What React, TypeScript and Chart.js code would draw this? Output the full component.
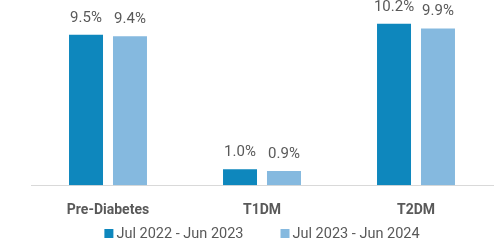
import React, { useEffect, useRef } from "react";
import { Chart, registerables } from "chart.js";

Chart.register(...registerables);

const categories = ["Pre-Diabetes", "T1DM", "T2DM"];
const seriesNames = ["Jul 2022 - Jun 2023", "Jul 2023 - Jun 2024"];
const series2023 = [9.5, 1.0, 10.2];
const series2024 = [9.4, 0.9, 9.9];
const colors = ["#0E87BD", "#85B9DF"];

const FONT = "Roboto, 'Open Sans', sans-serif";
const TEXT = "#595959";

const valueLabels = {
  id: "valueLabels",
  afterDatasetsDraw(chart: any) {
    const ctx = chart.ctx;
    ctx.save();
    ctx.font = `15px ${FONT}`;
    ctx.fillStyle = TEXT;
    ctx.textAlign = "center";
    ctx.textBaseline = "alphabetic";
    chart.data.datasets.forEach((ds: any, i: number) => {
      const meta = chart.getDatasetMeta(i);
      meta.data.forEach((bar: any, j: number) => {
        ctx.fillText(ds.data[j].toFixed(1) + "%", bar.x, bar.y - 13);
      });
    });
    ctx.restore();
  },
};

// Bottom legend drawn from the datasets' labels and colours
const bottomLegend = {
  id: "bottomLegend",
  afterDraw(chart: any) {
    const ctx = chart.ctx;
    const box = 9;
    const gap = 3;
    const spacing = 37;
    ctx.save();
    ctx.font = `14.5px ${FONT}`;
    const items = chart.data.datasets.map((ds: any) => ({
      label: ds.label,
      color: ds.backgroundColor,
      w: box + gap + ctx.measureText(ds.label).width,
    }));
    const total = items.reduce((s: number, it: any) => s + it.w, 0) + spacing * (items.length - 1);
    const cx = (chart.chartArea.left + chart.chartArea.right) / 2;
    let x = cx - total / 2;
    const baseY = chart.height - 6;
    items.forEach((it: any) => {
      ctx.fillStyle = it.color;
      ctx.fillRect(x, baseY - box, box, box);
      ctx.fillStyle = TEXT;
      ctx.textAlign = "left";
      ctx.textBaseline = "alphabetic";
      ctx.fillText(it.label, x + box + gap, baseY);
      x += it.w + spacing;
    });
    ctx.restore();
  },
};

export default function App() {
  const ref = useRef<HTMLCanvasElement>(null);
  useEffect(() => {
    document.body.style.margin = "0";
    const chart = new Chart(ref.current!, {
      type: "bar",
      data: {
        labels: categories,
        datasets: [
          { label: seriesNames[0], data: series2023, backgroundColor: colors[0] },
          { label: seriesNames[1], data: series2024, backgroundColor: colors[1] },
        ],
      },
      options: {
        animation: false,
        responsive: false,
        devicePixelRatio: 1,
        layout: { padding: { left: 31, right: 2, top: 11, bottom: 16 } },
        datasets: {
          bar: { categoryPercentage: 0.571, barPercentage: 0.773 },
        },
        scales: {
          x: {
            grid: { display: false },
            border: { display: true, color: "#D9D9D9", width: 1 },
            ticks: {
              color: TEXT,
              font: { family: FONT, size: 14, weight: "bold" },
              padding: 9,
            },
          },
          y: {
            display: false,
            min: 0,
            max: 11,
          },
        },
        plugins: {
          legend: { display: false },
          tooltip: { enabled: false },
        },
      },
      plugins: [valueLabels, bottomLegend],
    });
    return () => chart.destroy();
  }, []);
  return (
    <div style={{ position: "absolute", left: 0, top: 0, width: 495, height: 244 }}>
      <canvas ref={ref} width={495} height={244} style={{ width: 495, height: 244 }} />
    </div>
  );
}
